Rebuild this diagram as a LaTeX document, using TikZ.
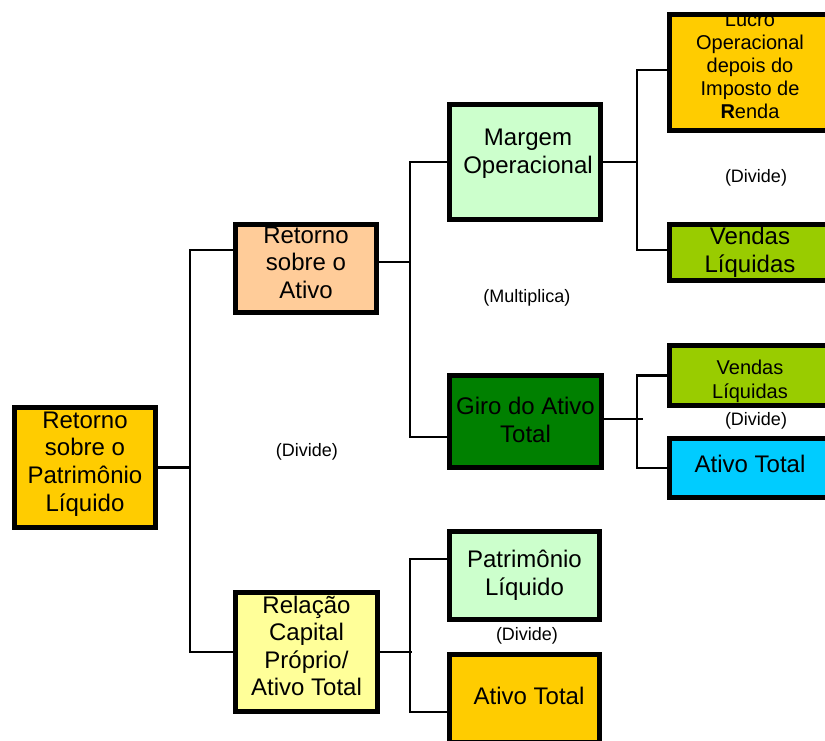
\documentclass[tikz,border=0pt]{standalone}
\usepackage{fontspec}
\setmainfont{Liberation Sans}
\usetikzlibrary{positioning}

\definecolor{ouro}{HTML}{FFCC00}
\definecolor{pessego}{HTML}{FFCC99}
\definecolor{amarelo}{HTML}{FFFF99}
\definecolor{menta}{HTML}{CCFFCC}
\definecolor{verde}{HTML}{008000}
\definecolor{lima}{HTML}{99CC00}
\definecolor{ciano}{HTML}{00CCFF}

\tikzset{
  caixa/.style={draw=black, line width=5pt, rectangle, inner sep=0pt},
  texto/.style={align=center, font=\fontsize{24}{27.6}\selectfont},
  liga/.style={draw=black, line width=2.2pt},
  oper/.style={font=\fontsize{18}{21}\selectfont}
}

\begin{document}
\begin{tikzpicture}[x=1pt,y=-1pt]
        %page size and clipping of the slide
        \useasboundingbox (0,0) rectangle (825,740);
        \clip (0,0) rectangle (825,740);

        %first level
        \node[caixa, fill=ouro, minimum width=141, minimum height=120,
              label={[texto, yshift=3.5pt]center:Retorno\\sobre o\\Patrimônio\\Líquido}] (roe) at (85,467.5) {};

        %second level
        \node[caixa, fill=pessego, minimum width=141, minimum height=88,
              label={[texto, yshift=6pt]center:Retorno\\sobre o\\Ativo}] (roa) at (306,268.5) {};
        \node[caixa, fill=amarelo, minimum width=142, minimum height=119,
              label={[texto, yshift=6pt]center:Relação\\Capital\\Próprio/\\Ativo Total}] (rel) at (306.5,652) {};

        %third level
        \node[caixa, fill=menta, minimum width=151, minimum height=115,
              label={[texto, yshift=8pt, xshift=3pt]center:Margem\\Operacional}] (margem) at (525,162) {};
        \node[caixa, fill=verde, minimum width=152, minimum height=92,
              label={[texto, yshift=1.5pt]center:Giro do Ativo\\Total}] (giro) at (525.5,421.5) {};
        \node[caixa, fill=menta, minimum width=150, minimum height=88,
              label={[texto]center:Patrimônio\\Líquido}] (pl) at (524.5,575.5) {};
        \node[caixa, fill=ouro, minimum width=150, minimum height=88,
              label={[texto, yshift=3pt, xshift=4.5pt]center:Ativo Total}] (at1) at (524.5,698.5) {};

        %fourth level
        \node[caixa, fill=ouro, minimum width=161, minimum height=116,
              label={[texto, font=\fontsize{20}{23}\selectfont, yshift=6.5pt]center:
                     Lucro\\Operacional\\depois do\\Imposto de\\\textbf{R}enda}] (lucro) at (750,72.5) {};
        \node[caixa, fill=lima, minimum width=161, minimum height=56,
              label={[texto]center:Vendas\\Líquidas}] (vendas1) at (750,252.5) {};
        \node[caixa, fill=lima, minimum width=161, minimum height=60,
              label={[texto, font=\fontsize{20}{24}\selectfont, yshift=-6pt]center:Vendas\\Líquidas}] (vendas2) at (750,375.5) {};
        \node[caixa, fill=ciano, minimum width=161, minimum height=59,
              label={[texto, yshift=4pt]center:Ativo Total}] (at2) at (750,468) {};

        %connectors
        \draw[liga] (roe.east) -- ++(32,0) coordinate (j1);
        \draw[liga] ([yshift=18.5pt]roa.west) -| (j1) |- (rel.west);

        \draw[liga] ([yshift=6.5pt]roa.east) -- ++(31,0) coordinate (j2);
        \draw[liga] (margem.west) -| (j2) |- ([yshift=-15.5pt]giro.west);

        \draw[liga] (margem.east) -- ++(34,0) coordinate (j3);
        \draw[liga] ([yshift=2.5pt]lucro.west) -| (j3) |- ([yshift=2.5pt]vendas1.west);

        \draw[liga] ([yshift=2.5pt]giro.east) -- ++(39,0);
        \draw[liga] (vendas2.west) -- ++(-30,0) coordinate (j4) |- (at2.west);

        \draw[liga] (rel.east) -- ++(32,0) coordinate (j5);
        \draw[liga] ([yshift=16.5pt]pl.west) -| ([xshift=-2pt]j5) |- ([yshift=-13.5pt]at1.west);

        %operation labels
        \node[oper] (op1) at (307,452) {(Divide)};
        \node[oper] (op2) at (527,298) {(Multiplica)};
        \node[oper] (op3) at (756,178) {(Divide)};
        \node[oper] (op4) at (756,421) {(Divide)};
        \node[oper] (op5) at (527,636) {(Divide)};
\end{tikzpicture}
\end{document}
